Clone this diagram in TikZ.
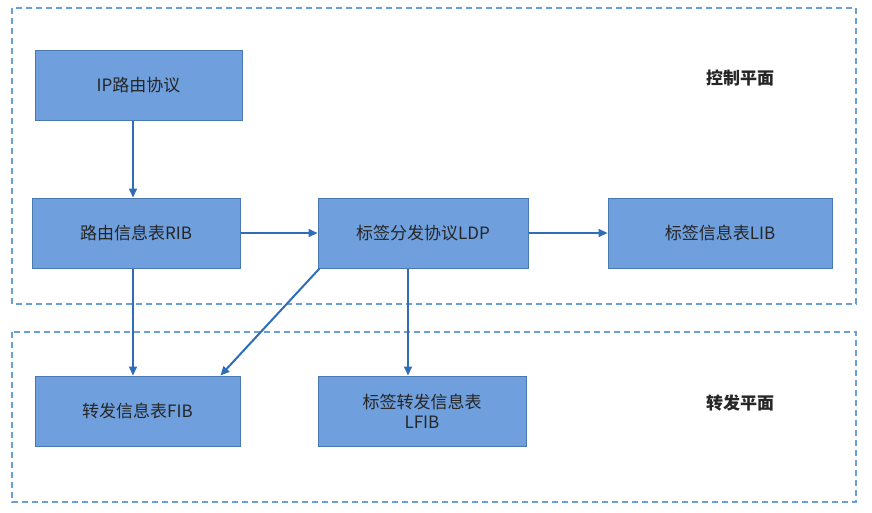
\documentclass[tikz,border=0pt]{standalone}
\usepackage{fontspec}
\setmainfont{Noto Sans CJK SC}
\usetikzlibrary{arrows.meta}
\definecolor{boxfill}{HTML}{6F9FDC}
\definecolor{boxline}{HTML}{4A78B0}
\definecolor{frameline}{HTML}{6AA0D8}
\definecolor{arrowc}{HTML}{2E6DB8}
\tikzset{
  blk/.style={draw=boxline,fill=boxfill,line width=1pt,minimum height=70pt,
    align=center,font=\fontsize{17pt}{20pt}\selectfont,text=black!85},
  plane/.style={draw=frameline,line width=1.2pt,dash pattern=on 6pt off 4pt},
  flow/.style={-{Triangle[length=9pt,width=8pt]},draw=arrowc,fill=arrowc,line width=2pt},
  tag/.style={font=\fontsize{17pt}{20pt}\selectfont\bfseries,text=black!85}
}
\begin{document}
\begin{tikzpicture}[x=1pt,y=-1pt]
\useasboundingbox (0,0) rectangle (872,512);
% planes
\draw[plane] (12,8) rectangle (856,304);
\draw[plane] (12,332) rectangle (856,502);
\node[tag] (ctl) at (740,78) {控制平面};
\node[tag] (fwd) at (740,403) {转发平面};
% boxes
\node[blk,minimum width=207pt] (ip) at (138.5,85) {IP路由协议};
\node[blk,minimum width=208pt] (rib) at (136,233) {路由信息表RIB};
\node[blk,minimum width=210pt] (ldp) at (423,233) {标签分发协议LDP};
\node[blk,minimum width=224pt] (lib) at (720,233) {标签信息表LIB};
\node[blk,minimum width=205pt] (fib) at (137.5,411) {转发信息表FIB};
\node[blk,minimum width=208pt] (lfib) at (422,411) {标签转发信息表\\LFIB};
% arrows
\draw[flow] (ip.south -| 133,0) -- (rib.north -| 133,0);
\draw[flow] (rib) -- (ldp);
\draw[flow] (ldp) -- (lib);
\draw[flow] (rib.south -| 133,0) -- (fib.north -| 133,0);
\draw[flow] (ldp.south west) ++(2,0) -- ([xshift=-20pt]fib.north east);
\draw[flow] (ldp.south -| 408,0) -- (lfib.north -| 408,0);
\end{tikzpicture}
\end{document}
